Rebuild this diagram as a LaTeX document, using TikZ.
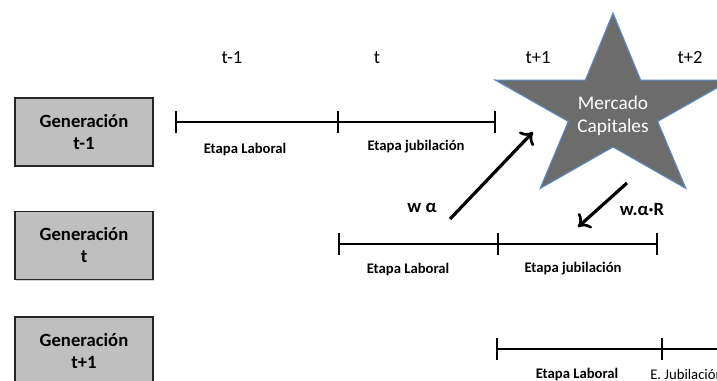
\documentclass[tikz,border=0pt]{standalone}
\usepackage{fontspec}
\setmainfont{Carlito}
\usetikzlibrary{arrows.meta}
\usetikzlibrary{shadows}

\definecolor{starfill}{RGB}{108,108,108}
\definecolor{starline}{RGB}{91,140,200}

\tikzset{
  gen/.style={draw=black!85, fill=black!25, line width=0.8pt, minimum width=103.5pt, minimum height=51pt,
    align=center, inner sep=0pt, font=\bfseries\fontsize{14}{16.5}\selectfont,
    drop shadow={shadow xshift=1pt, shadow yshift=-1pt, fill=black!35}},
  marca/.tip={Bar[width=17pt,line width=1.2pt]},
  linea/.style={line width=1.2pt},
  etapa/.style={font=\bfseries\fontsize{11}{13}\selectfont},
  tiempo/.style={font=\fontsize{14}{16}\selectfont},
  flujo/.style={line width=2.4pt, -{To[length=8pt,width=15pt,line width=2pt]}},
  monto/.style={font=\bfseries\fontsize{14}{16}\selectfont}
}

\begin{document}
\begin{tikzpicture}[x=0.75pt,y=-0.75pt]
  \useasboundingbox (0,0) rectangle (717,380);

  %%%%%%% GENERACIONES
  \node[gen] (gen1) at (84,132) {Generación\\t-1};
  \node[gen] (gen2) at (84,245.5) {Generación\\t};
  \node[gen] (gen3) at (84,351) {Generación\\t+1};

  %%%%%%% PERIODOS
  \node[tiempo] (p1) at (232,58) {t-1};
  \node[tiempo] (p2) at (377,58) {t};
  \node[tiempo] (p3) at (538,58) {t+1};
  \node[tiempo] (p4) at (690,58) {t+2};

  %%%%%%% ESTRELLA
  \begin{scope}[shift={(613,110)}]
    \fill[starfill] (270:124 and 97) \foreach \k in {0,...,4} {-- ({306+72*\k}:47 and 37) -- ({342+72*\k}:124 and 97)} -- cycle;
    \draw[starline, line width=0.8pt] (270:124 and 97) \foreach \k in {0,...,4} {-- ({306+72*\k}:47 and 37) -- ({342+72*\k}:124 and 97)} -- cycle;
  \end{scope}
  \node[white, align=center, font=\fontsize{14.5}{17.5}\selectfont] (mc) at (613,116) {Mercado\\Capitales};

  %%%%%%% LINEAS DE TIEMPO
  \coordinate (a1) at (175,122);
  \coordinate (a2) at (337,122);
  \coordinate (a3) at (496,122);
  \coordinate (b1) at (338,244);
  \coordinate (b2) at (497,244);
  \coordinate (b3) at (658,244);
  \coordinate (c1) at (496,349);
  \coordinate (c2) at (661,349);
  \coordinate (c3) at (730,349);

  \draw[linea, marca-] (a1) -- (a2);
  \draw[linea, marca-marca] (a2) -- (a3);
  \draw[linea, marca-] (b1) -- (b2);
  \draw[linea, marca-marca] (b2) -- (b3);
  \draw[linea, marca-] (c1) -- (c2);
  \draw[linea, marca-] (c2) -- (c3);

  \node[etapa] (e1) at (245,149) {Etapa Laboral};
  \node[etapa] (e2) at (416,147) {Etapa jubilación};
  \node[etapa] (e3) at (408,269) {Etapa Laboral};
  \node[etapa] (e4) at (573,269) {Etapa jubilación};
  \node[etapa] (e5) at (577,374) {Etapa Laboral};
  \node[anchor=west, inner sep=0pt, font=\fontsize{11}{13}\selectfont] (e6) at (650,374) {E. Jubilación};

  %%%%%%% FLUJOS
  \coordinate (w1) at (450,219);
  \coordinate (w2) at (533,132);
  \coordinate (r1) at (627,183);
  \coordinate (r2) at (578,227);
  \draw[flujo] (w1) -- (w2);
  \draw[flujo] (r1) -- (r2);
  \node[monto] (wa) at (422,208) {w α};
  \node[monto] (war) at (642,210) {w.α·R};
\end{tikzpicture}
\end{document}
